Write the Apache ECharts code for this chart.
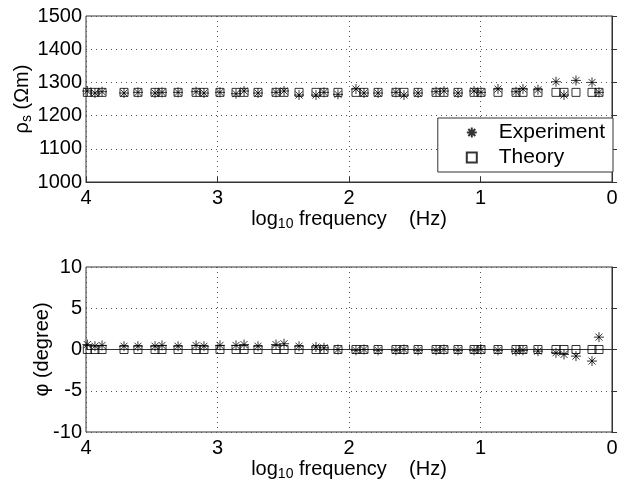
<!DOCTYPE html>
<html><head><meta charset="utf-8">
<script src="https://cdn.jsdelivr.net/npm/echarts@6/dist/echarts.min.js"></script>
<style>html,body{margin:0;padding:0;background:#fff}#c{width:627px;height:485px}</style>
</head><body><div id="c"></div>
<script>
const logFreq = [3.99,3.932,3.878,3.711,3.605,3.475,3.422,3.300,3.163,3.103,2.981,2.859,2.798,2.692,2.555,2.494,2.380,2.251,2.190,2.084,1.947,1.886,1.779,1.643,1.582,1.475,1.338,1.278,1.171,1.049,0.996,0.867,0.730,0.677,0.563,0.426,0.365,0.274,0.152,0.099];
const rhoExp = [1274,1268,1272,1268,1270,1268,1270,1270,1272,1268,1270,1266,1274,1268,1270,1274,1262,1262,1270,1264,1280,1268,1268,1270,1262,1268,1272,1274,1268,1274,1270,1280,1272,1280,1278,1302,1262,1306,1300,1270];
const rhoTheory = [1270,1270,1270,1270,1270,1270,1270,1270,1270,1270,1270,1270,1270,1270,1270,1270,1270,1270,1270,1270,1270,1270,1270,1270,1270,1270,1270,1270,1270,1270,1270,1270,1270,1270,1270,1270,1270,1270,1270,1270];
const phiExp = [0.6,0.4,0.5,0.4,0.4,0.4,0.5,0.4,0.5,0.4,0.5,0.5,0.6,0.4,0.6,0.7,0.4,0.3,0.2,0.0,-0.1,0.0,-0.1,-0.1,0.0,-0.1,-0.1,0.0,-0.1,-0.1,0.0,-0.1,-0.2,-0.1,-0.2,-0.4,-0.6,-0.8,-1.4,1.5];
const phiTheory = [0,0,0,0,0,0,0,0,0,0,0,0,0,0,0,0,0,0,0,0,0,0,0,0,0,0,0,0,0,0,0,0,0,0,0,0,0,0,0,0];

const FONT = 'Liberation Sans, Arial, sans-serif';
const star = 'path://M0,5L10,5M5,0L5,10M1.5,1.5L8.5,8.5M8.5,1.5L1.5,8.5';
const square = 'path://M0,0L10,0L10,10L0,10Z';
const pair = (xs, ys) => xs.map((x, i) => [x, ys[i]]);
const split = {show: true, lineStyle: {color: '#555', type: [1, 4], width: 1}};
const axisLine = {show: true, lineStyle: {color: '#333', width: 1}};
const tick = {show: true, inside: true, length: 5, lineStyle: {color: '#333'}};
const xName = '{a|log}{b|10}{a| frequency    (Hz)}';
const nameRich = {
  a: {fontSize: 20, fontFamily: FONT, color: '#000', lineHeight: 24},
  b: {fontSize: 14, fontFamily: FONT, color: '#000', lineHeight: 14, padding: [14, 0, 0, 0], verticalAlign: 'bottom'}
};
const plain = v => String(v);
const xAxisBase = (gi) => ({
  type: 'value', gridIndex: gi, min: 0, max: 4, interval: 1, inverse: true,
  axisLine, axisTick: tick, splitLine: split,
  axisLabel: {fontSize: 20, fontFamily: FONT, color: '#000', margin: 6, formatter: plain},
  name: xName, nameLocation: 'middle', nameGap: 25, nameMoveOverlap: false,
  nameTextStyle: {rich: nameRich}
});
const chart = echarts.init(document.getElementById('c'), null, {renderer: 'canvas'});
chart.setOption({
  animation: false,
  backgroundColor: '#fff',
  grid: [
    {left: 86, top: 16, width: 526, height: 166, show: true, borderColor: '#333', borderWidth: 1, backgroundColor: 'transparent', containLabel: false, outerBoundsMode: 'none'},
    {left: 86, top: 267, width: 526, height: 165, show: true, borderColor: '#333', borderWidth: 1, backgroundColor: 'transparent', containLabel: false, outerBoundsMode: 'none'}
  ],
  xAxis: [xAxisBase(0), xAxisBase(1)],
  yAxis: [
    {type: 'value', gridIndex: 0, min: 1000, max: 1500, interval: 100,
     axisLine, axisTick: tick, splitLine: split,
     axisLabel: {fontSize: 20, fontFamily: FONT, color: '#000', margin: 4, formatter: plain},
     name: '{a|ρ}{b|s}{a| (Ωm)}', nameLocation: 'middle', nameGap: 52, nameRotate: 90, nameMoveOverlap: false,
     nameTextStyle: {rich: nameRich}},
    {type: 'value', gridIndex: 1, min: -10, max: 10, interval: 5,
     axisLine, axisTick: tick, splitLine: split,
     axisLabel: {fontSize: 20, fontFamily: FONT, color: '#000', margin: 4, formatter: plain},
     name: 'φ (degree)', nameLocation: 'middle', nameGap: 34, nameRotate: 90, nameMoveOverlap: false,
     nameTextStyle: {fontSize: 20, fontFamily: FONT, color: '#000'}}
  ],
  legend: {
    data: [{name: 'Experiment', icon: star}, {name: 'Theory', icon: square}],
    orient: 'vertical', right: 14, top: 118,
    backgroundColor: '#fff', borderColor: '#333', borderWidth: 1,
    padding: [4, 8, 4, 28], itemGap: 4, itemWidth: 44, itemHeight: 10,
    textStyle: {fontSize: 21, fontFamily: FONT, color: '#000'}
  },
  series: [
    {name: 'Theory', type: 'scatter', xAxisIndex: 0, yAxisIndex: 0, symbol: 'rect', symbolSize: 8,
     itemStyle: {color: 'rgba(0,0,0,0)', borderColor: '#000', borderWidth: 1}, data: pair(logFreq, rhoTheory), z: 3},
    {name: 'Experiment', type: 'scatter', xAxisIndex: 0, yAxisIndex: 0, symbol: star, symbolSize: 10,
     itemStyle: {color: 'rgba(0,0,0,0)', borderColor: '#000', borderWidth: 1}, data: pair(logFreq, rhoExp), z: 4},
    {name: 'Theory', type: 'scatter', xAxisIndex: 1, yAxisIndex: 1, symbol: 'rect', symbolSize: 8,
     itemStyle: {color: 'rgba(0,0,0,0)', borderColor: '#000', borderWidth: 1}, data: pair(logFreq, phiTheory), z: 3},
    {name: 'Experiment', type: 'scatter', xAxisIndex: 1, yAxisIndex: 1, symbol: star, symbolSize: 10,
     itemStyle: {color: 'rgba(0,0,0,0)', borderColor: '#000', borderWidth: 1}, data: pair(logFreq, phiExp), z: 4}
  ]
});
</script></body></html>
